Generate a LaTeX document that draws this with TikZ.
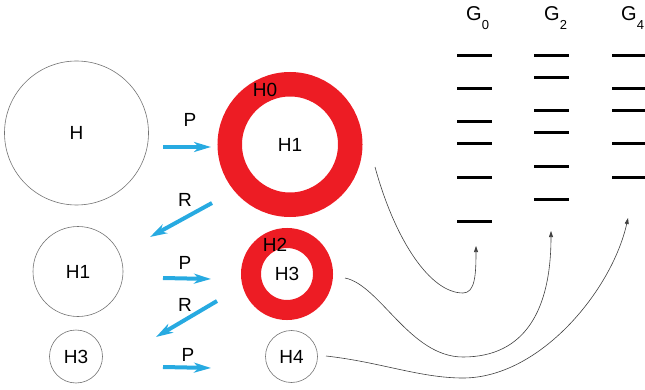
\documentclass[tikz,border=0pt]{standalone}
\usepackage{fontspec}
\setmainfont{Liberation Sans}
\usetikzlibrary{arrows.meta}
\definecolor{ringred}{RGB}{237,28,36}
\definecolor{arrowblue}{RGB}{39,170,225}

\begin{document}
\begin{tikzpicture}[
        %We set the units to pixels and define some styles
        x=1pt, y=-1pt,
        every node/.style={color=black, font=\fontsize{19}{22}\selectfont},
        plain circle/.style={circle, draw=black!55, line width=0.6pt, inner sep=0pt, minimum size=#1},
        red ring/.style={circle, draw=ringred, inner sep=0pt, minimum size=#1},
        move arrow/.style={arrowblue, line width=4pt, -{Stealth[length=17pt,width=10pt,inset=5pt]}},
        level line/.style={line width=3pt},
        link/.style={black!75, line width=0.6pt, -{Triangle[length=6pt,width=4pt]}},
        glabel/.style={anchor=base west, inner sep=0pt, font=\fontsize{20}{22}\selectfont},
    ]
\useasboundingbox (0,0) rectangle (645,390);

% left column of circles
\node[plain circle=144] (hbig) at (76.5,133) {H};
\node[plain circle=90] (hone) at (78,271.5) {H1};
\node[plain circle=53] (hthree) at (76,356.5) {H3};

% red rings and the last circle
\node[red ring=120.5, line width=24.5pt] (ringa) at (290,144.5) {H1};
\node at (265,90) {H0};
\node[red ring=72, line width=20pt] (ringb) at (287,274) {H3};
\node at (275,245) {H2};
\node[plain circle=52] (hfour) at (291.5,356.5) {H4};

% P and R moves
\coordinate (pa start) at (163,147);
\coordinate (pa end) at (211,147);
\coordinate (ra start) at (212,203);
\coordinate (ra end) at (150,237);
\coordinate (pb start) at (163,278);
\coordinate (pb end) at (211,279);
\coordinate (rb start) at (217,301);
\coordinate (rb end) at (156,337);
\coordinate (pc start) at (163,367);
\coordinate (pc end) at (211,368);
\draw[move arrow] (pa start) -- (pa end);
\draw[move arrow] (ra start) -- (ra end);
\draw[move arrow] (pb start) -- (pb end);
\draw[move arrow] (rb start) -- (rb end);
\draw[move arrow] (pc start) -- (pc end);
\node (pa) at (190,120) {P};
\node (ra) at (185,200) {R};
\node (pb) at (185,263) {P};
\node (rb) at (185,305) {R};
\node (pc) at (188,355) {P};

% spectra
\node[glabel] (gzero) at (466,21) {G\raisebox{-0.45em}{\fontsize{13}{13}\selectfont 0}};
\node[glabel] (gtwo) at (544,21) {G\raisebox{-0.45em}{\fontsize{13}{13}\selectfont 2}};
\node[glabel] (gfour) at (621,21) {G\raisebox{-0.45em}{\fontsize{13}{13}\selectfont 4}};
\foreach \y in {56,89,122,144,178,222}
    \draw[level line] (457,\y) -- (492,\y);
\foreach \y in {56,78,111,133,167,200}
    \draw[level line] (534,\y) -- (569,\y);
\foreach \y in {56,89,111,144,178}
    \draw[level line] (612,\y) -- (645,\y);

% curved links
\coordinate (from a) at (375,167);
\coordinate (from b) at (345,278);
\coordinate (from c) at (326,356);
\coordinate (to zero) at (476,246);
\coordinate (to two) at (551,231);
\coordinate (to four) at (628,218);
\draw[link] (from a) .. controls (395,240) and (430,293) .. (463,293)
    .. controls (475,293) and (476,275) .. (to zero);
\draw[link] (from b) .. controls (380,285) and (410,357) .. (463,357)
    .. controls (525,357) and (551,310) .. (to two);
\draw[link] (from c) .. controls (380,362) and (420,378) .. (463,378)
    .. controls (540,378) and (612,290) .. (to four);
\end{tikzpicture}
\end{document}
